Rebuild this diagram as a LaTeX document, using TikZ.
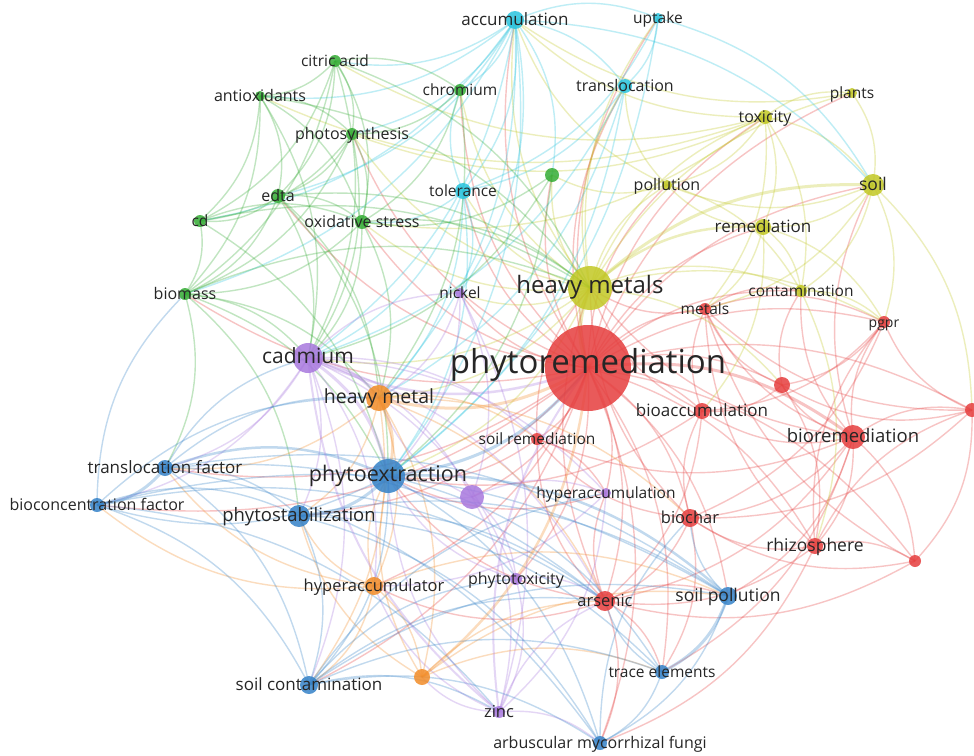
\documentclass[tikz,border=0pt]{standalone}
\usepackage{fontspec}
\setmainfont{Open Sans}
\pgfdeclarelayer{bg}
\pgfdeclarelayer{fg}
\pgfsetlayers{bg,main,fg}
\definecolor{vred}{RGB}{230,62,62}
\definecolor{vgreen}{RGB}{52,172,52}
\definecolor{vblue}{RGB}{52,130,200}
\definecolor{vyellow}{RGB}{194,200,36}
\definecolor{vpurple}{RGB}{168,120,222}
\definecolor{vcyan}{RGB}{40,196,222}
\definecolor{vorange}{RGB}{242,140,40}
\tikzset{
  dot/.style={circle,inner sep=0pt,fill=#1,fill opacity=.85},
  lbl/.style={inner sep=0pt,text=black!85,text height=.72em,text depth=.22em,yshift=-.32em},
  link/.style={draw=#1,draw opacity=.3,line width=1.4pt},
}
% name/x/y/radius/colour/font size/label
\def\kwlist{pr/588/368/43/vred/33/phytoremediation,
  hms/590/288/22/vyellow/24/heavy metals,
  cad/308/358/15/vpurple/21/cadmium,
  pex/388/476/17/vblue/21.5/phytoextraction,
  hm/379/398/13/vorange/19.5/heavy metal,
  brem/853/437/12/vred/18.5/bioremediation,
  pst/299/516/11/vblue/18.5/phytostabilization,
  met/705/309/6/vred/15.5/metals,
  pgpr/884/322/6/vred/14/pgpr,
  r1/782/385/8/vred/10/{},
  r2/972/410/7/vred/10/{},
  bacc/702/411/8/vred/17/bioaccumulation,
  srem/537/439/6/vred/15.5/soil remediation,
  hacc/606/493/5/vpurple/15.5/hyperaccumulation,
  bch/690/518/9/vred/16.5/biochar,
  rhz/815/546/8/vred/17.5/rhizosphere,
  r3/915/561/6/vred/10/{},
  ars/605/601/10/vred/16.5/arsenic,
  tox/765/117/7/vyellow/16/toxicity,
  pla/852/93/5/vyellow/15.5/plants,
  soil/873/185/11/vyellow/17.5/soil,
  pol/667/185/5/vyellow/16/pollution,
  rem/763/227/8/vyellow/17/remediation,
  con/801/291/6/vyellow/15.5/contamination,
  acc/515/20/9/vcyan/17/accumulation,
  upt/658/18/5/vcyan/15.5/uptake,
  trl/625/86/7/vcyan/16/translocation,
  tol/463/191/8/vcyan/15.5/tolerance,
  chr/460/90/6/vgreen/15.5/chromium,
  nic/460/293/5/vpurple/15.5/nickel,
  cit/335/61/6/vgreen/15.5/citric acid,
  ant/260/96/5/vgreen/16/antioxidants,
  pho/352/134/6/vgreen/16/photosynthesis,
  edta/278/196/7/vgreen/16/edta,
  cd/200/221/6/vgreen/15.5/cd,
  oxs/362/222/7/vgreen/16/oxidative stress,
  bio/185/294/6/vgreen/16/biomass,
  g1/552/175/7/vgreen/10/{},
  p1/472/497/12/vpurple/10/{},
  ptox/516/579/6/vpurple/16/phytotoxicity,
  zinc/499/712/6/vpurple/16.5/zinc,
  hyp/374/586/9/vorange/16.5/hyperaccumulator,
  o1/422/677/8/vorange/10/{},
  tf/165/468/8/vblue/17/translocation factor,
  bcf/97/505/7/vblue/16/bioconcentration factor,
  scon/309/685/9/vblue/17/soil contamination,
  spol/728/596/9/vblue/17.5/soil pollution,
  tre/662/672/7/vblue/15.5/trace elements,
  amf/600/743/7/vblue/16/arbuscular mycorrhizal fungi}
\begin{document}
\begin{tikzpicture}[x=1pt,y=-1pt]
\begin{pgfonlayer}{bg}
\fill[white] (0,0) rectangle (974,755);
\end{pgfonlayer}
\useasboundingbox (0,0) rectangle (974,755);
% keywords
\foreach \k/\px/\py/\rad/\col/\fs/\txt in \kwlist {
  \node[dot=\col,minimum size=2*\rad] (\k) at (\px,\py) {};
  \begin{pgfonlayer}{fg}
  \node[lbl,font=\fontsize{\fs}{\fs}\selectfont] (\k-t) at (\k) {\txt};
  \end{pgfonlayer}
}
% links
\begin{pgfonlayer}{bg}
\foreach \a/\b in {pr/met,pr/pgpr,pr/r1,pr/r2,pr/bacc,pr/srem,pr/hacc,pr/bch,pr/rhz,pr/r3,pr/ars,
  pr/spol,pr/tre,pr/amf,pr/ptox,pr/hyp,pr/scon,pr/tf,pr/bcf,pr/acc,pr/upt,pr/trl,pr/tol,pr/chr,
  pr/pho,pr/oxs,pr/edta,pr/bio,pr/tox,pr/pla,pr/soil,pr/pol,pr/rem,pr/con,pr/nic,pr/g1,pr/p1,pr/pst,
  brem/r1,brem/r2,brem/r3,brem/rhz,brem/pgpr,brem/met,brem/bacc,brem/bch,brem/ars,brem/hms,
  brem/srem,brem/con,brem/soil,brem/tre,brem/spol,rhz/r3,rhz/pgpr,rhz/bch,rhz/ars,rhz/amf,rhz/r2,
  rhz/met,r2/pgpr,r2/r1,r2/r3,r1/met,r1/bacc,r1/rhz,r1/con,bch/ars,bch/srem,bch/hms,bch/bacc,
  bch/tre,ars/spol,ars/tre,ars/amf,ars/hyp,ars/pex,ars/hms,ars/hacc,ars/srem,bacc/ars,bacc/hms,
  bacc/met,bacc/pex,met/hms,met/con,met/pgpr,srem/hms,srem/pex,srem/hacc,hacc/pex,
  r2/bch,r2/met,r3/bch,r3/ars,r3/met,pgpr/bch,pgpr/r1,pgpr/bacc}
  \draw[link=vred] (\a.center) to[bend left=22] (\b.center);
\foreach \a/\b in {hms/tox,hms/pol,hms/con,hms/pla,hms/acc,hms/upt,hms/trl,hms/tol,hms/chr,hms/oxs,
  hms/pho,hms/cad,hms/pex,hms/nic,hms/hm,hms/g1,hms/pgpr,hms/r1,tox/pla,tox/soil,tox/rem,tox/pol,
  tox/con,tox/acc,tox/oxs,tox/pho,tox/cit,tox/ant,tox/met,pla/soil,pla/acc,soil/rem,soil/con,
  soil/pol,soil/pgpr,soil/r2,soil/met,rem/con,rem/pol,rem/pgpr,rem/met,rem/bacc,con/pgpr,con/rhz,
  pol/acc,pol/trl,pol/g1,pol/con}
  \draw[link=vyellow] (\a.center) to[bend left=22] (\b.center);
\foreach \a/\b in {acc/upt,acc/trl,acc/tol,acc/chr,acc/cit,acc/ant,acc/pho,acc/nic,acc/cad,acc/pex,
  acc/hm,acc/g1,acc/edta,upt/trl,upt/tol,upt/pex,upt/soil,trl/tol,trl/pex,trl/cad,trl/hm,tol/chr,
  tol/nic,tol/cad,tol/oxs,tol/pex,tol/hm,acc/soil,acc/bio,acc/cd}
  \draw[link=vcyan] (\a.center) to[bend left=22] (\b.center);
\foreach \a/\b in {cit/ant,cit/pho,cit/edta,cit/oxs,cit/cd,cit/chr,cit/hms,ant/pho,ant/oxs,ant/cd,
  ant/bio,ant/edta,ant/hms,pho/oxs,pho/edta,pho/bio,pho/cd,pho/cad,edta/cd,edta/oxs,edta/bio,
  edta/pex,edta/hm,edta/cad,edta/hms,cd/bio,cd/oxs,cd/hms,oxs/bio,oxs/cad,oxs/hm,oxs/hms,bio/pex,
  bio/tf,bio/cad,bio/hm,bio/hms,chr/oxs,chr/pho,chr/hm,g1/oxs,g1/cad,g1/pex,cd/pex,
  cit/bio,cit/cad,ant/cad,bio/pst}
  \draw[link=vgreen] (\a.center) to[bend left=22] (\b.center);
\foreach \a/\b in {cad/pst,cad/nic,cad/p1,cad/ptox,cad/tf,cad/bcf,cad/hyp,cad/srem,cad/ars,cad/scon,
  cad/hacc,nic/p1,nic/zinc,nic/hm,nic/pex,p1/zinc,p1/pex,p1/ptox,p1/hacc,p1/hm,ptox/zinc,ptox/ars,
  ptox/pex,zinc/amf,zinc/hyp,zinc/o1,zinc/pex,zinc/ars,hacc/hyp,hacc/zinc}
  \draw[link=vpurple] (\a.center) to[bend left=22] (\b.center);
\foreach \a/\b in {hm/hyp,hm/o1,hm/pst,hm/scon,hm/srem,hm/tf,hyp/o1,hyp/pex,hyp/pst,hyp/scon,hyp/bcf,
  hyp/tf,o1/pex,o1/pst,o1/tre,o1/ars,o1/spol,hm/ars,hm/bch,hyp/spol}
  \draw[link=vorange] (\a.center) to[bend left=22] (\b.center);
\foreach \a/\b in {pex/bcf,pex/scon,pex/tre,pex/amf,tf/pst,tf/scon,tf/hm,bcf/pst,bcf/scon,bcf/hm,
  pst/scon,pst/tre,pst/amf,pst/ars,scon/tre,scon/amf,scon/spol,spol/amf,spol/bch,tre/amf,tre/ars,
  amf/bch,tf/cad,bcf/bio,scon/zinc,pst/spol,tf/spol,tf/ars,bcf/ars,bcf/spol,tf/amf,bcf/zinc,
  scon/ars,scon/hacc,scon/ptox}
  \draw[link=vblue] (\a.center) to[bend left=22] (\b.center);
% strong links
\foreach \a/\b/\w/\col in {pr/hms/4/vyellow,pr/hm/3/vorange,pr/pex/3/vblue,pr/cad/2.5/vpurple,
  cad/pex/3/vpurple,cad/hm/2.5/vpurple,hm/pex/3/vorange,pex/pst/3/vblue,tf/bcf/3/vblue,
  tf/pex/2.5/vblue,pr/brem/3/vred,hms/soil/3/vyellow,hms/rem/2.5/vyellow,spol/tre/3/vblue,
  pr/o1/2.5/vorange,zinc/cad/2/vpurple,zinc/pr/2/vpurple,pex/spol/2.5/vblue}
  \draw[link=\col,line width=\w] (\a.center) to[bend left=22] (\b.center);
\end{pgfonlayer}
\end{tikzpicture}
\end{document}
